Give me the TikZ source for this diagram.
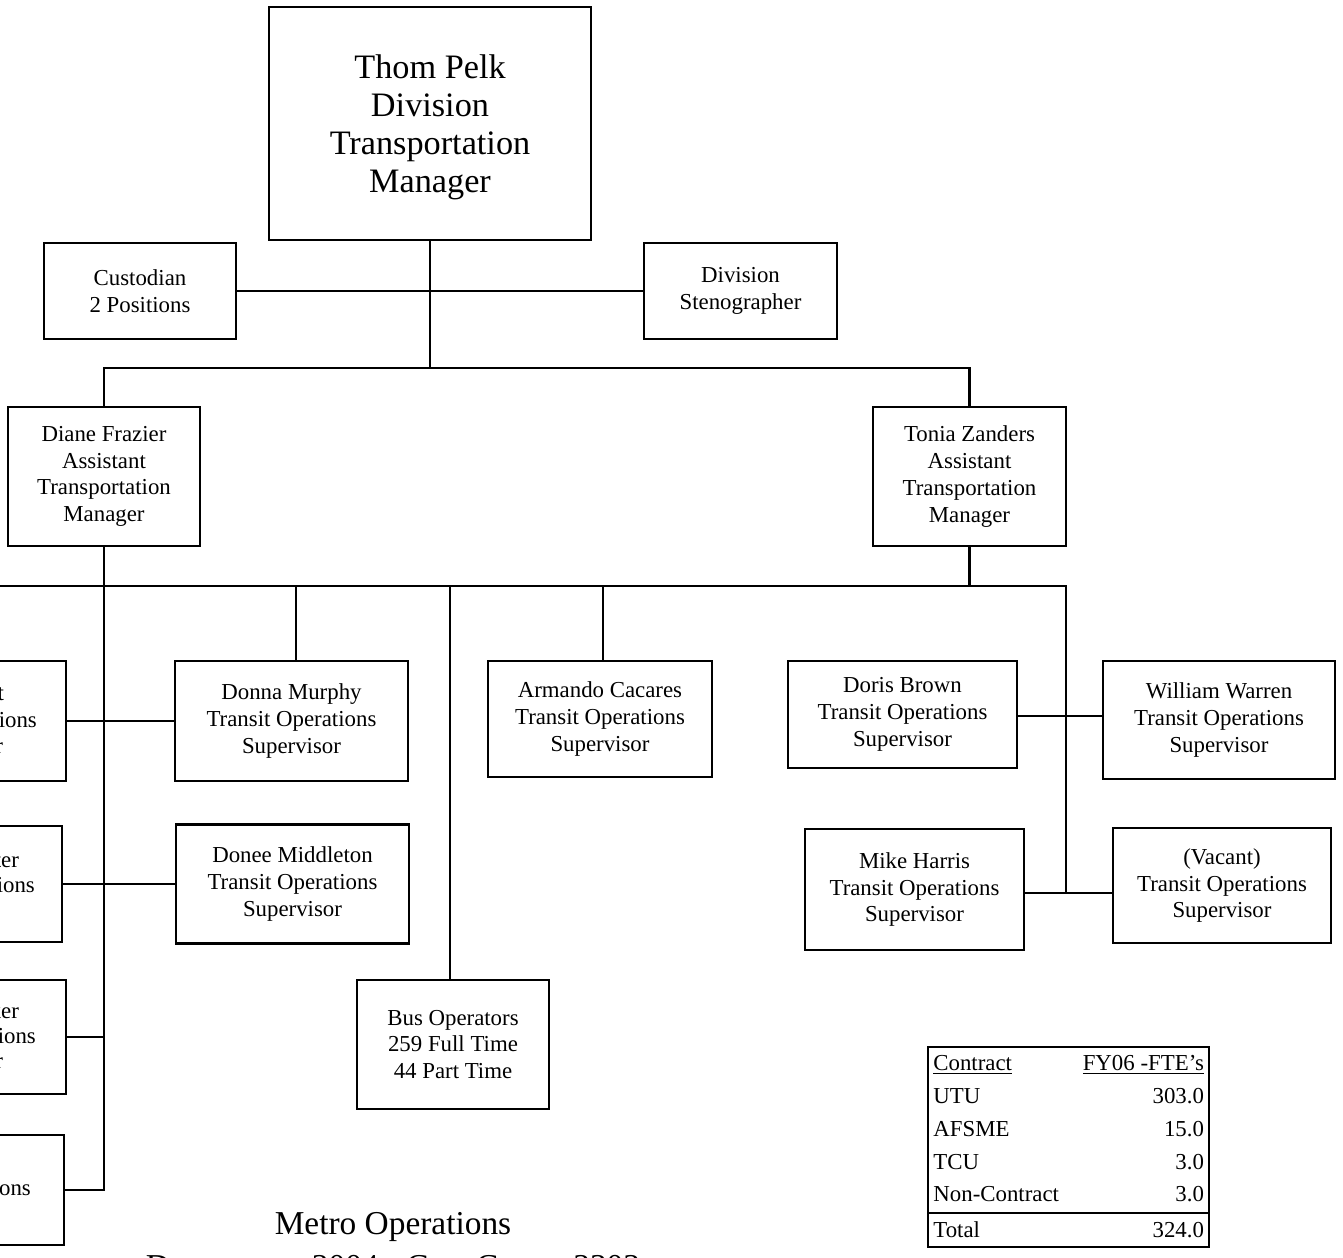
\documentclass[tikz,border=0pt]{standalone}
\usepackage{fontspec}
\setmainfont{Liberation Serif}
\usetikzlibrary{positioning, calc}
\setlength{\arrayrulewidth}{1.2pt}

\begin{document}
\begin{tikzpicture}[x=0.02cm, y=-0.02cm, line width=1.3pt,
    unit/.style={draw, align=center, inner sep=0pt,
        font=\fontsize{13}{15.2}\selectfont},
    head/.style={unit, font=\fontsize{19.5}{21.6}\selectfont},
    sz/.style 2 args={minimum width=#1cm, minimum height=#2cm},
    frag/.style={inner sep=0pt, anchor=base east,
        font=\fontsize{13}{15.2}\selectfont}]
    \useasboundingbox (0,0) rectangle (1343,1258);
    \clip (0,0) rectangle (1343,1258);

    % top level
    \node[head, sz={6.44}{4.66}, text height=2.9cm] (pelk) at (430,123.5)
        {Thom Pelk\\Division\\Transportation\\Manager};
    \node[unit, sz={3.84}{1.92}] (cust) at (140,291) {Custodian\\2 Positions};
    \node[unit, sz={3.86}{1.92}] (steno) at (740.5,291) {Division\\Stenographer};
    \node[unit, sz={3.84}{2.78}] (diane) at (104,476.5)
        {Diane Frazier\\Assistant\\Transportation\\Manager};
    \node[unit, sz={3.86}{2.78}] (tonia) at (969.5,476.5)
        {Tonia Zanders\\Assistant\\Transportation\\Manager};

    % boxes cut by the left edge
    \node[unit, sz={4.0}{2.4}] (lb1) at (-34,721) {};
    \node[unit, sz={4.0}{2.32}] (lb2) at (-38,884) {};
    \node[unit, sz={4.0}{2.28}] (lb3) at (-34,1037) {};
    \node[unit, sz={4.0}{2.2}] (lb4) at (-36,1190) {};
    \node[frag] (f1) at (5,700) {t};
    \node[frag] (f2) at (38,727) {ions};
    \node[frag] (f3) at (4,753) {r};
    \node[frag] (f4) at (20,867) {ter};
    \node[frag] (f5) at (36,892) {ions};
    \node[frag] (f6) at (20,1018) {ker};
    \node[frag] (f7) at (37,1043) {ions};
    \node[frag] (f8) at (4,1068) {r};
    \node[frag] (f9) at (32,1195) {ons};

    % supervisors
    \node[unit, sz={4.66}{2.4}] (donna) at (291.5,721)
        {Donna Murphy\\Transit Operations\\Supervisor};
    \node[unit, sz={4.66}{2.38}] (donee) at (292.5,884)
        {Donee Middleton\\Transit Operations\\Supervisor};
    \node[unit, sz={4.48}{2.32}] (armando) at (600,719)
        {Armando Cacares\\Transit Operations\\Supervisor};
    \node[unit, sz={3.84}{2.58}] (drivers) at (453,1044.5)
        {Bus Operators\\259 Full Time\\44 Part Time};
    \node[unit, sz={4.58}{2.14}] (doris) at (902.5,714.5)
        {Doris Brown\\Transit Operations\\Supervisor};
    \node[unit, sz={4.64}{2.36}] (william) at (1219,720)
        {William Warren\\Transit Operations\\Supervisor};
    \node[unit, sz={4.38}{2.42}] (mike) at (914.5,889.5)
        {Mike Harris\\Transit Operations\\Supervisor};
    \node[unit, sz={4.36}{2.3}] (vacant) at (1222,885.5)
        {(Vacant)\\Transit Operations\\Supervisor};

    % connectors
    \coordinate (top) at (430,368);
    \coordinate (busl) at (-10,586);
    \coordinate (busr) at (1066,586);
    \coordinate (dw) at (1066,716);
    \coordinate (mv) at (1066,893);
    \coordinate (b1) at (296,586);
    \coordinate (b2) at (450,586);
    \coordinate (b3) at (603,586);

    \draw (pelk.south) -- (top);
    \draw (cust.east) -- (steno.west);
    \draw (diane.north) |- (top) -| (tonia.north);
    \draw (tonia.south) -- (tonia.south |- busr);
    \draw (busl) -- (busr) -- (mv);
    \draw (diane.south) |- (lb4.east);
    \draw (lb3.east) -- (lb3.east -| diane.south);
    \draw (lb1.east) -- (donna.west);
    \draw (lb2.east) -- (donee.west);
    \draw (b1) -- (b1 |- donna.north);
    \draw (b2) -- (b2 |- drivers.north);
    \draw (b3) -- (b3 |- armando.north);
    \draw (doris.east |- dw) -- (william.west |- dw);
    \draw (mike.east |- mv) -- (vacant.west |- mv);

    % staffing table
    \node[draw, inner sep=0pt, anchor=north west,
        font=\fontsize{13}{15}\selectfont] (fte) at (927,1046)
        {\renewcommand{\arraystretch}{1.25}%
        \begin{tabular*}{160pt}{@{\hspace{3pt}}l@{\extracolsep{\fill}}r@{\hspace{3pt}}}
        \underline{Contract} & \underline{FY06 -FTE's}\\
        UTU & 303.0\\
        AFSME & 15.0\\
        TCU & 3.0\\
        Non-Contract & 3.0\\ \hline
        Total & 324.0
        \end{tabular*}};

    \node[inner sep=0pt, font=\fontsize{19}{21}\selectfont] (metro) at (393,1227)
        {Metro Operations};
    \node[inner sep=0pt, font=\fontsize{19}{21}\selectfont, below=0.22cm of metro] (dept)
        {Department 3004 - Cost Center 3303};
\end{tikzpicture}
\end{document}
